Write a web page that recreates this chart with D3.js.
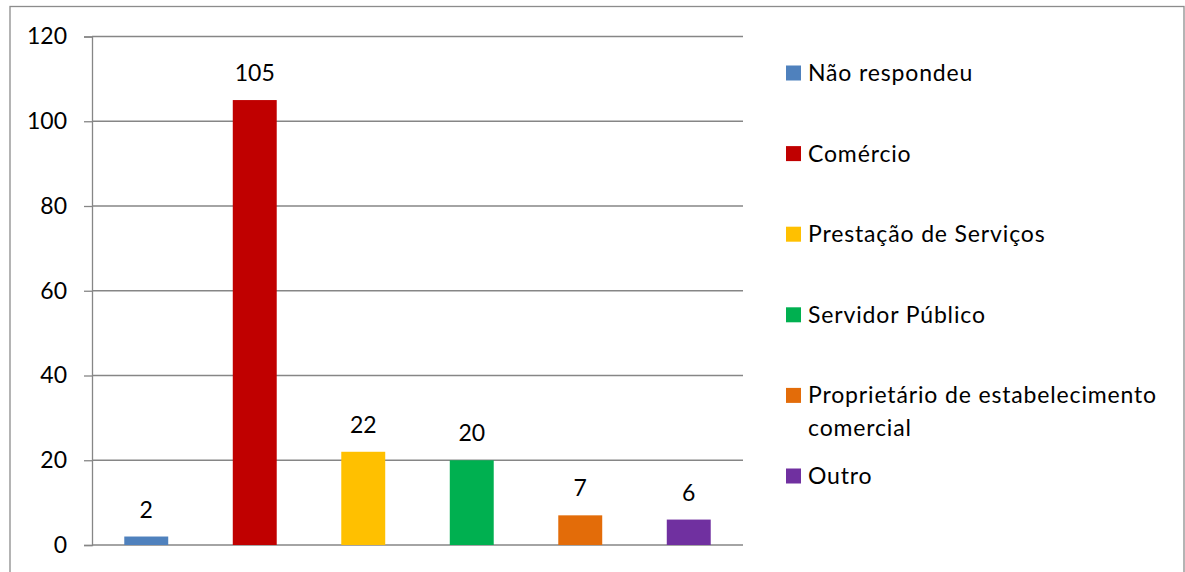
<!DOCTYPE html>
<html>
<head>
<meta charset="utf-8">
<script src="https://cdn.jsdelivr.net/npm/d3@7/dist/d3.min.js"></script>
<style>
  html, body { margin: 0; padding: 0; background: #fff; }
  svg { display: block; }
  text { font-family: Lato, "Open Sans", sans-serif; fill: #000; }
</style>
</head>
<body>
<svg id="chart" width="1185" height="572"></svg>
<script>
// Ocupação dos entrevistados
const categories = ["Não respondeu", "Comércio", "Prestação de Serviços", "Servidor Público", "Proprietário de estabelecimento comercial", "Outro"];
const values = [2, 105, 22, 20, 7, 6];
const colors = ["#4F81BD", "#C00000", "#FFC000", "#00B050", "#E36C09", "#7030A0"];
const yTicks = [0, 20, 40, 60, 80, 100, 120];
// legend lines (long names wrap onto two lines)
const legendLines = [["Não respondeu"], ["Comércio"], ["Prestação de Serviços"], ["Servidor Público"], ["Proprietário de estabelecimento", "comercial"], ["Outro"]];

const svg = d3.select("#chart");
const grid = "#868686";

// outer frame
svg.append("rect")
  .attr("x", 10).attr("y", 6.5).attr("width", 1174).attr("height", 580)
  .attr("fill", "none").attr("stroke", "#8c8c8c").attr("stroke-width", 1.3);

const plot = { left: 92, right: 743, top: 36.5, bottom: 545 };

const x = d3.scaleBand()
  .domain(categories)
  .range([plot.left, plot.right])
  .paddingInner(0.595)
  .paddingOuter(0.2975);

const y = d3.scaleLinear().domain([0, 120]).range([plot.bottom, plot.top]);

// horizontal gridlines + y axis
const yAxis = d3.axisLeft(y).tickValues(yTicks).tickSize(8).tickPadding(17).tickFormat(d3.format("d"));
const gY = svg.append("g").attr("transform", `translate(${plot.left},0)`).call(yAxis);
gY.select(".domain").attr("stroke", grid).attr("stroke-width", 1.3);
gY.selectAll(".tick line").attr("stroke", grid).attr("stroke-width", 1.3);
gY.selectAll(".tick text").attr("font-size", 23).attr("font-family", "Lato, sans-serif").attr("fill", "#000");

svg.append("g").selectAll("line").data(yTicks).join("line")
  .attr("x1", plot.left).attr("x2", plot.right)
  .attr("y1", d => y(d)).attr("y2", d => y(d))
  .attr("stroke", grid).attr("stroke-width", 1.3);

// bars
svg.append("g").selectAll("rect").data(values).join("rect")
  .attr("x", (d, i) => x(categories[i]))
  .attr("y", d => y(d))
  .attr("width", x.bandwidth())
  .attr("height", d => y(0) - y(d))
  .attr("fill", (d, i) => colors[i]);

// value labels
svg.append("g").selectAll("text").data(values).join("text")
  .attr("x", (d, i) => x(categories[i]) + x.bandwidth() / 2)
  .attr("y", d => y(d) - 19)
  .attr("text-anchor", "middle")
  .attr("font-size", 23)
  .text(d => d);

// legend
const legend = svg.append("g");
const legendY0 = 73, legendStep = 80.6;
legendLines.forEach((lines, i) => {
  const cy = legendY0 + i * legendStep;
  legend.append("rect")
    .attr("x", 786).attr("y", cy - 7.5).attr("width", 15).attr("height", 15)
    .attr("fill", colors[i]);
  const t = legend.append("text")
    .attr("x", 808).attr("y", cy + 8)
    .attr("font-size", 23)
    .attr("letter-spacing", 0.85);
  lines.forEach((ln, j) => {
    t.append("tspan").attr("x", 808).attr("dy", j === 0 ? 0 : 33).text(ln);
  });
});
</script>
</body>
</html>
